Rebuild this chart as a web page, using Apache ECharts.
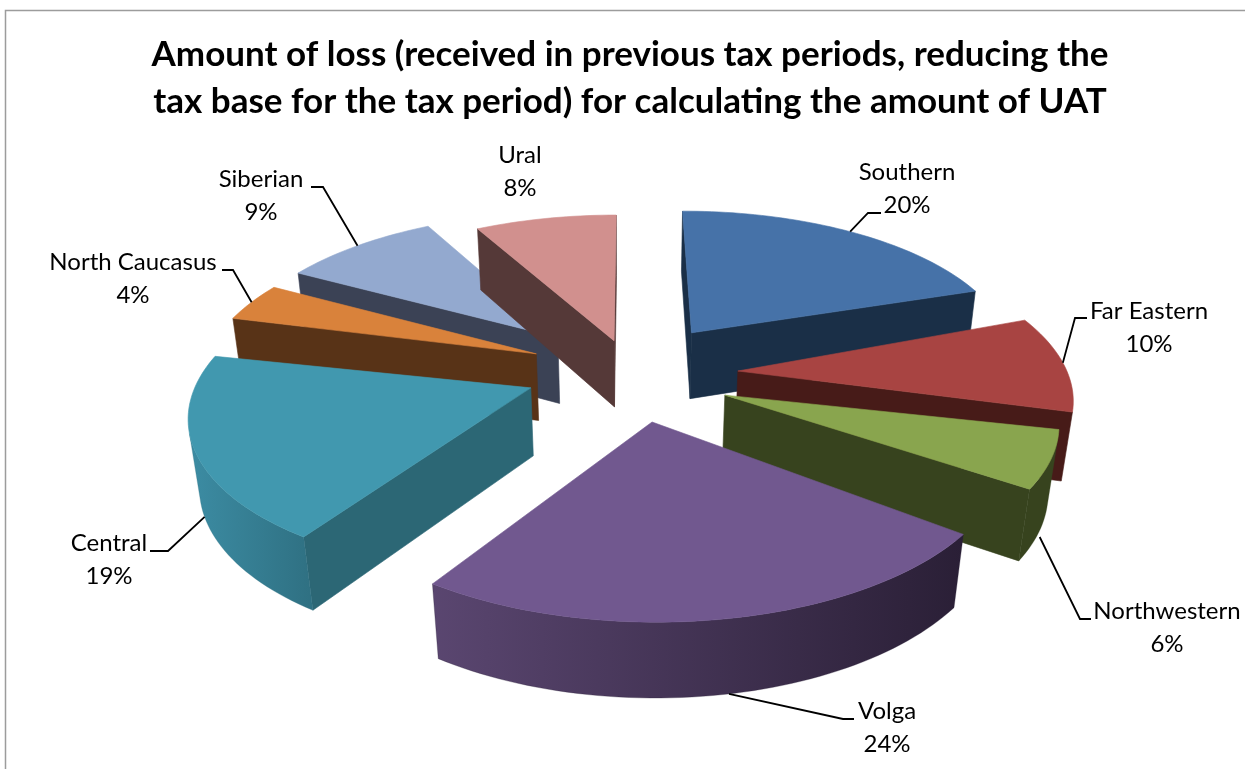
<!DOCTYPE html>
<html>
<head>
<meta charset="utf-8">
<title>Amount of loss by federal district</title>
<style>
  html, body { margin: 0; padding: 0; background: #ffffff; }
  #chart { width: 1245px; height: 769px; }
</style>
<script src="https://cdn.jsdelivr.net/npm/echarts@6/dist/echarts.min.js"></script>
</head>
<body>
<div id="chart"></div>
<script>
// Share of the loss per federal district, clockwise from twelve o'clock
const regions = ['Southern', 'Far Eastern', 'Northwestern', 'Volga', 'Central', 'North Caucasus', 'Siberian', 'Ural'];
const shares = [20, 10, 6, 24, 19, 4, 9, 8];

const titleLines = [
  'Amount of loss (received in previous tax periods, reducing the',
  'tax base for the tax period) for calculating the amount of UAT'
];

// Per-slice appearance: top face, cut faces, outer wall gradient (left to right)
const topColors = ['#4672a8', '#a84442', '#89a54e', '#71588f', '#4198af', '#d9823b', '#93a9cf', '#d1908e'];
const cutColors = ['#1a2f47', '#471b18', '#37431e', '#2c2139', '#2c6775', '#583317', '#3b4255', '#553938'];
const wallLeft = ['#1a2f47', '#471b18', '#37431e', '#5a4670', '#3c8ca3', '#6a3f1c', '#3b4255', '#553938'];
const wallRight = ['#1a2f47', '#471b18', '#37431e', '#2a1f36', '#2f7082', '#583317', '#3b4255', '#553938'];

// How far each slice is pulled away from the pie centre, in radii
const explode = [0.32, 0.32, 0.32, 0.32, 0.32, 0.31, 0.32, 0.21];
// Small per-slice corrections to the camera model: turn in degrees, radius factor, sideways shift
const sliceTurn = [-0.3, -2.8, -5.5, -2.5, -2.4, 0, 0, 0];
const sliceRadius = [0.98, 0.985, 0.96, 1, 0.99, 1, 1, 1];
const sliceShift = [0, 0, -0.006, 0.02, 0.006, 0, 0, 0];

// Label centre, leader elbow, leader end; rim/z give where the leader meets the slice
const labelLayout = [
  { cx: 907, cy: 189, elbow: [868, 213], end: [881, 213], rim: 0.5, z: 0 },
  { cx: 1149, cy: 328, elbow: [1075, 318], end: [1087, 318], rim: 0.49, z: 0 },
  { cx: 1167, cy: 628, elbow: [1080, 619], end: [1091, 619], rim: 0.44, z: -1.15 },
  { cx: 887, cy: 728, elbow: [843, 719], end: [854, 719], rim: 0.49, z: -1 },
  { cx: 109, cy: 560, elbow: [168, 551], end: [150, 551], rim: 0.52, z: -1 },
  { cx: 133, cy: 279, elbow: [233, 270], end: [222, 270], rim: 0.5, z: 0 },
  { cx: 261, cy: 196, elbow: [323, 187], end: [311, 187], rim: 0.5, z: 0 },
  { cx: 520, cy: 172, elbow: null, end: null, rim: 0.5, z: 0 }
];

// Perspective camera for the tilted pie
const view = { cx: 631, cy: 371, scaleX: 334, scaleY: 153, scaleZ: 69, depthY: 0.15, depthZ: 0.025 };

function project(x, y, z) {
  const w = 1 + view.depthY * y - view.depthZ * z;
  return [view.cx + view.scaleX * x / w, view.cy - (view.scaleY * y + view.scaleZ * z) / w];
}

const total = shares.reduce((a, b) => a + b, 0);
const sliceGeo = [];
shares.reduce((acc, v, i) => {
  const turn = sliceTurn[i] * Math.PI / 180;
  const a0 = acc / total * Math.PI * 2;
  const a1 = (acc + v) / total * Math.PI * 2;
  const mid = (a0 + a1) / 2;
  sliceGeo.push({
    a0: a0 + turn,
    a1: a1 + turn,
    r: sliceRadius[i],
    ox: explode[i] * Math.sin(mid) + sliceShift[i],
    oy: explode[i] * Math.cos(mid)
  });
  return acc + v;
}, 0);

// Painter's order: slices further back are drawn first
const depthRank = sliceGeo.map((g, i) => i).sort((p, q) => sliceGeo[q].oy - sliceGeo[p].oy);

function signedArea(pts) {
  let s = 0;
  pts.forEach((p, i) => {
    const n = pts[(i + 1) % pts.length];
    s += p[0] * n[1] - n[0] * p[1];
  });
  return s;
}

function flatFace(points, color, z2) {
  return {
    type: 'polygon',
    z2,
    shape: { points },
    style: { fill: color, stroke: color, lineWidth: 0.6 }
  };
}

function buildSlice(i) {
  const g = sliceGeo[i];
  const z2 = depthRank.indexOf(i) * 10 + 1;
  const rimAt = (a, z) => project(g.ox + g.r * Math.sin(a), g.oy + g.r * Math.cos(a), z);
  const apexTop = project(g.ox, g.oy, 0);
  const apexBot = project(g.ox, g.oy, -1);
  const steps = Math.max(6, Math.ceil((g.a1 - g.a0) / (Math.PI / 120)));
  const angles = [];
  for (let k = 0; k <= steps; k++) angles.push(g.a0 + (g.a1 - g.a0) * k / steps);

  const parts = [];

  // Radial cut faces, only the ones turned toward the viewer
  const startFace = [apexTop, rimAt(g.a0, 0), rimAt(g.a0, -1), apexBot];
  if (signedArea(startFace) < 0) parts.push(flatFace(startFace, cutColors[i], z2));
  const endFace = [rimAt(g.a1, 0), apexTop, apexBot, rimAt(g.a1, -1)];
  if (signedArea(endFace) < 0) parts.push(flatFace(endFace, cutColors[i], z2));

  // Outer wall: contiguous runs of visible rim segments
  let run = [];
  const flush = () => {
    if (run.length < 2) { run = []; return; }
    const points = run.map(a => rimAt(a, 0)).concat(run.slice().reverse().map(a => rimAt(a, -1)));
    parts.push({
      type: 'polygon',
      z2,
      shape: { points },
      style: {
        fill: new echarts.graphic.LinearGradient(0, 0, 1, 0, [
          { offset: 0, color: wallLeft[i] },
          { offset: 1, color: wallRight[i] }
        ]),
        stroke: wallRight[i],
        lineWidth: 0.3
      }
    });
    run = [];
  };
  for (let k = 0; k < steps; k++) {
    const quad = [rimAt(angles[k], 0), rimAt(angles[k + 1], 0), rimAt(angles[k + 1], -1), rimAt(angles[k], -1)];
    if (signedArea(quad) < 0) {
      if (!run.length) run.push(angles[k]);
      run.push(angles[k + 1]);
    } else {
      flush();
    }
  }
  flush();

  // Top face
  const topPts = [apexTop].concat(angles.map(a => rimAt(a, 0)));
  parts.push(flatFace(topPts, topColors[i], z2 + 1));
  return parts;
}

function buildLabel(i, name, value) {
  const g = sliceGeo[i];
  const lay = labelLayout[i];
  const parts = [{
    type: 'text',
    z2: 200,
    style: {
      text: name + '\n' + Math.round(value / total * 100) + '%',
      x: lay.cx,
      y: lay.cy,
      align: 'center',
      verticalAlign: 'middle',
      fontFamily: 'Lato, Carlito, sans-serif',
      fontSize: 24,
      lineHeight: 32.5,
      fill: '#000000'
    }
  }];
  if (lay.elbow) {
    const a = g.a0 + (g.a1 - g.a0) * lay.rim;
    parts.push({
      type: 'polyline',
      z2: 199,
      shape: { points: [project(g.ox + g.r * Math.sin(a), g.oy + g.r * Math.cos(a), lay.z), lay.elbow, lay.end] },
      style: { stroke: '#000000', lineWidth: 1.8, fill: 'none' }
    });
  }
  return parts;
}

const chart = echarts.init(document.getElementById('chart'), null, { renderer: 'canvas' });

chart.setOption({
  animation: false,
  backgroundColor: '#ffffff',
  title: {
    text: titleLines.join('\n'),
    left: 625,
    top: 26,
    textAlign: 'center',
    textStyle: {
      fontFamily: 'Lato, Carlito, sans-serif',
      fontWeight: 'bold',
      fontSize: 35,
      lineHeight: 47,
      color: '#000000'
    }
  },
  graphic: [{
    type: 'polyline',
    silent: true,
    shape: { points: [[5.5, 769], [5.5, 10.5], [1245, 10.5]] },
    style: { stroke: '#9c9c9c', lineWidth: 1.5, fill: 'none' }
  }],
  series: [{
    type: 'custom',
    coordinateSystem: 'none',
    silent: true,
    data: regions.map((name, i) => ({ name, value: shares[i] })),
    renderItem(params, api) {
      const i = params.dataIndex;
      return {
        type: 'group',
        children: buildSlice(i).concat(buildLabel(i, regions[i], api.value(0)))
      };
    }
  }]
});
</script>
</body>
</html>
